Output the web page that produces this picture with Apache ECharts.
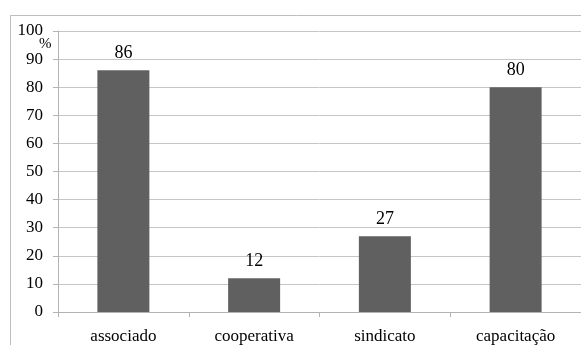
<!DOCTYPE html>
<html>
<head>
<meta charset="utf-8">
<script src="https://cdn.jsdelivr.net/npm/echarts@6/dist/echarts.min.js"></script>
<style>
  html, body { margin: 0; padding: 0; background: #fff; }
  #chart { width: 581px; height: 345px; }
</style>
</head>
<body>
<div id="chart"></div>
<script>
// Categories and percentages shown on the bars
const categories = ['associado', 'cooperativa', 'sindicato', 'capacitação'];
const percentages = [86, 12, 27, 80];
const yTicks = { min: 0, max: 100, interval: 10 };

const serif = '"Liberation Serif", "Times New Roman", serif';
const chart = echarts.init(document.getElementById('chart'));

chart.setOption({
  animation: false,
  backgroundColor: '#fff',
  graphic: [
    // outer chart frame
    {
      type: 'rect',
      left: 8, top: 13,
      shape: { width: 600, height: 360 },
      style: { fill: 'none', stroke: '#bdbdbd', lineWidth: 1 },
      silent: true
    },
    {
      type: 'text',
      left: 39, top: 37,
      style: { text: '%', font: '15px ' + serif, fill: '#000' }
    }
  ],
  grid: { left: 58, top: 31, width: 524, height: 283 },
  xAxis: {
    type: 'category',
    data: categories,
    axisLine: { show: true, lineStyle: { color: '#b3b3b3', width: 1 } },
    axisTick: { show: true, length: 5, lineStyle: { color: '#b3b3b3' } },
    axisLabel: { color: '#000', fontFamily: serif, fontSize: 17, margin: 16 }
  },
  yAxis: {
    type: 'value',
    min: yTicks.min, max: yTicks.max, interval: yTicks.interval,
    axisLine: { show: true, lineStyle: { color: '#b3b3b3', width: 1 } },
    axisTick: { show: true, length: 5, lineStyle: { color: '#b3b3b3' } },
    axisLabel: { color: '#000', fontFamily: serif, fontSize: 17, margin: 15 },
    splitLine: { show: true, lineStyle: { color: '#c6c6c6', width: 1 } }
  },
  series: [{
    type: 'bar',
    data: percentages,
    barWidth: 52,
    itemStyle: { color: '#606060' },
    label: {
      show: true,
      position: 'top',
      distance: 8,
      color: '#000',
      fontFamily: serif,
      fontSize: 18
    }
  }]
});
</script>
</body>
</html>
